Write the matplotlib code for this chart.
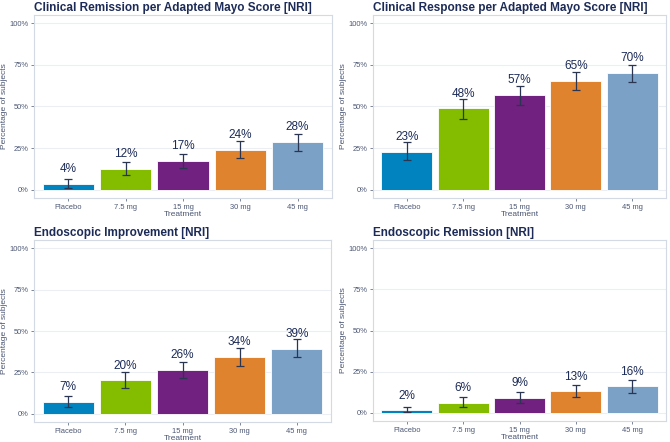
import numpy as np
import matplotlib
matplotlib.use('Agg')
from matplotlib import pyplot as plt

plt.rcParams['font.family'] = ['Liberation Sans', 'DejaVu Sans']

treatments = ['Placebo', '7.5 mg', '15 mg', '30 mg', '45 mg']
colors = ['#0083BF', '#84BD00', '#71217F', '#E0832F', '#7BA1C6']

titles = ['Clinical Remission per Adapted Mayo Score [NRI]',
          'Clinical Response per Adapted Mayo Score [NRI]',
          'Endoscopic Improvement [NRI]',
          'Endoscopic Remission [NRI]']

# percentages and 95% CI bounds
remission = [3.7, 12.7, 17.3, 24.1, 28.6]
remission_lo = [1.2, 8.8, 13.3, 19.2, 23.5]
remission_hi = [6.5, 16.7, 21.6, 29.0, 33.7]

response = [22.9, 48.8, 57.1, 65.4, 70.2]
response_lo = [17.8, 42.4, 51.2, 60.2, 64.7]
response_hi = [28.8, 54.3, 62.2, 70.6, 74.9]

improvement = [7.1, 20.2, 26.7, 34.4, 39.4]
improvement_lo = [4.1, 15.7, 21.8, 29.0, 34.1]
improvement_hi = [10.6, 25.1, 31.4, 40.0, 44.9]

endo_remission = [1.6, 6.1, 9.0, 13.1, 16.1]
endo_remission_lo = [0.4, 3.3, 5.7, 9.4, 11.8]
endo_remission_hi = [3.7, 9.8, 12.4, 16.7, 20.0]

labels = [['4%', '12%', '17%', '24%', '28%'],
          ['23%', '48%', '57%', '65%', '70%'],
          ['7%', '20%', '26%', '34%', '39%'],
          ['2%', '6%', '9%', '13%', '16%']]

panels = [(remission, remission_lo, remission_hi),
          (response, response_lo, response_hi),
          (improvement, improvement_lo, improvement_hi),
          (endo_remission, endo_remission_lo, endo_remission_hi)]

navy = '#1C2B57'
tickcol = '#4B5673'
gridcol = '#EBEEF3'
bordercol = '#D3DAE4'

fig = plt.figure(figsize=(6.7, 4.42), dpi=100)
W, H = 670, 442
boxes = [(34, 15, 332, 198), (373, 15, 666, 198),
         (34, 240, 331, 422), (373, 240, 666, 421)]

for i, (vals, lo, hi) in enumerate(panels):
    l, t, r, b = boxes[i]
    ax = fig.add_axes([l / W, 1 - b / H, (r - l) / W, (b - t) / H])
    x = np.arange(1, 6)
    ax.bar(x, vals, width=0.9, color=colors, edgecolor='white', linewidth=0.6, zorder=2)
    vals = np.array(vals)
    err = [vals - np.array(lo), np.array(hi) - vals]
    ax.errorbar(x, vals, yerr=err, fmt='none', ecolor='#2A3552', elinewidth=0.9,
                capsize=2.6, capthick=0.9, zorder=3)
    for xi, v, s in zip(x, vals, labels[i]):
        ax.text(xi, v + 7, s, ha='center', va='baseline', fontsize=8.5, color=navy, zorder=4)
    ax.set_xlim(0.4, 5.6)
    ax.set_ylim(-5, 105)
    ax.set_yticks([0, 25, 50, 75, 100])
    ax.set_yticklabels(['0%', '25%', '50%', '75%', '100%'])
    ax.set_xticks(x)
    ax.set_xticklabels(treatments)
    ax.tick_params(labelsize=5.4, colors=tickcol, length=2, width=0.5, pad=2)
    ax.grid(axis='y', color=gridcol, linewidth=0.8, zorder=0)
    ax.set_axisbelow(True)
    for sp in ax.spines.values():
        sp.set_color(bordercol)
        sp.set_linewidth(0.8)
    ax.set_xlabel('Treatment', fontsize=6, color=tickcol, labelpad=0.3)
    ax.set_ylabel('Percentage of subjects', fontsize=6, color=tickcol, labelpad=1)
    ax.set_title(titles[i], loc='left', fontsize=8.5, fontweight='bold', color=navy, pad=3)

fig.savefig('out.png', dpi=100)
